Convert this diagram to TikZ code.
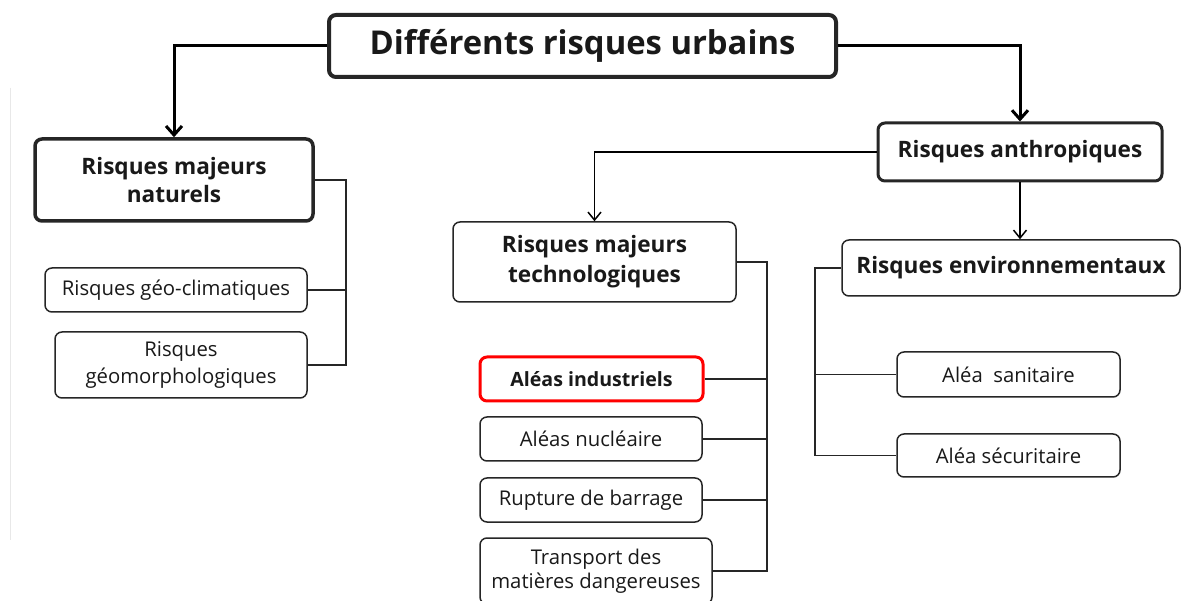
\documentclass[tikz,border=0pt]{standalone}
\usepackage{fontspec}
\setmainfont{Open Sans}
\usetikzlibrary{arrows.meta}
\begin{document}
\begin{tikzpicture}[x=1pt,y=-1pt,
  leaf/.style={draw=black!85, rounded corners=7pt, line width=1.5pt, align=center, inner sep=0pt,
     font=\fontsize{20.3}{27}\selectfont, text=black!90},
  head/.style={leaf, font=\fontsize{22.6}{29}\selectfont\bfseries},
  thickarrow/.style={line width=3pt, -{Straight Barb[length=9pt,width=16pt,line width=3pt]}},
  thinarrow/.style={line width=1.5pt, -{Straight Barb[length=8pt,width=13pt,line width=1.5pt]}},
  conn/.style={line width=1.5pt, draw=black!85}
]
\clip (0,0) rectangle (1184,601);
\fill[white] (0,0) rectangle (1184,601);
\draw[gray!18, line width=1pt] (10,88) -- (10,540);

\node[head, line width=4pt, font=\fontsize{32.8}{36}\selectfont\bfseries, minimum width=507pt, minimum height=62pt] (title) at (582.5,46) {\raisebox{-3pt}{Différents risques urbains}};

\node[head, line width=3.5pt, font=\fontsize{22.6}{28}\selectfont\bfseries, minimum width=278pt, minimum height=82pt] (nat) at (174,180) {Risques majeurs\\naturels};
\node[leaf, minimum width=262pt, minimum height=44pt] (geo) at (176,290) {Risques géo-climatiques};
\node[leaf, minimum width=252pt, minimum height=66pt] (geom) at (181,365) {Risques\\géomorphologiques};

\node[head, line width=3pt, minimum width=284pt, minimum height=58pt] (anth) at (1020,152) {Risques anthropiques};
\node[head, font=\fontsize{22.6}{30}\selectfont\bfseries, minimum width=283pt, minimum height=80pt] (tech) at (594.5,262) {Risques majeurs\\technologiques};
\node[head, minimum width=338pt, minimum height=56pt] (env) at (1011,268) {Risques environnementaux};

\node[leaf, draw=red, line width=3pt, font=\fontsize{19.6}{26}\selectfont\bfseries, minimum width=223pt, minimum height=44pt] (ind) at (591.5,379) {Aléas industriels};
\node[leaf, minimum width=222pt, minimum height=44pt] (nuc) at (591,439) {Aléas nucléaire};
\node[leaf, minimum width=222pt, minimum height=44pt] (rup) at (591,500) {Rupture de barrage};
\node[leaf, font=\fontsize{20.3}{24}\selectfont, minimum width=232pt, minimum height=66pt] (tra) at (596,571) {Transport des\\matières dangereuses};

\node[leaf, minimum width=223pt, minimum height=45pt] (san) at (1008.5,374.5) {Aléa\ \ sanitaire};
\node[leaf, minimum width=223pt, minimum height=43pt] (sec) at (1008.5,455.5) {Aléa sécuritaire};

\draw[thickarrow] (title.west) -| (nat.north);
\draw[thickarrow] (title.east) -| (anth.north);
\draw[thinarrow] (anth.west) -| (tech.north);
\draw[thinarrow] (anth.south) -- (anth.south |- env.north);

\coordinate (nb) at (346,365);
\draw[conn] (nat.east) -| (nb) -- (geom.east);
\draw[conn] (geo.east) -- (geo.east -| nb);

\coordinate (tb) at (767,571);
\draw[conn] (tech.east) -| (tb) -- (tra.east);
\draw[conn] (ind.east) -- (ind.east -| tb);
\draw[conn] (nuc.east) -- (nuc.east -| tb);
\draw[conn] (rup.east) -- (rup.east -| tb);

\coordinate (eb) at (815,455.5);
\draw[conn] (env.west) -| (eb) -- (sec.west);
\draw[conn] (san.west) -- (san.west -| eb);
\end{tikzpicture}
\end{document}
